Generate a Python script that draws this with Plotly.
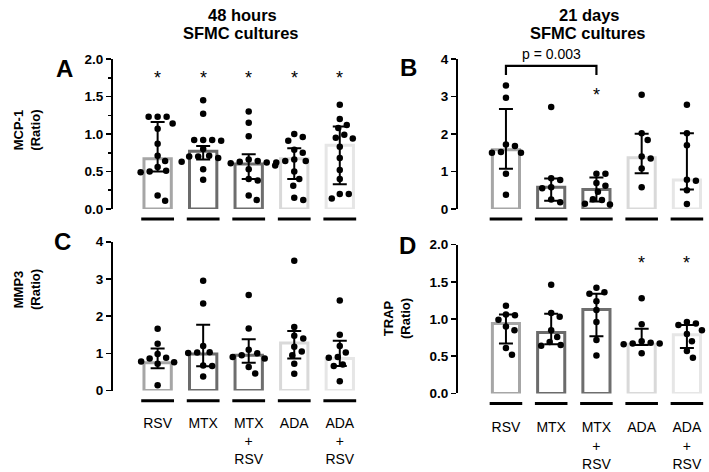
import plotly.graph_objects as go

W, H = 709, 472

categories = ["RSV", "MTX", "MTX<br>+<br>RSV", "ADA", "ADA<br>+<br>RSV"]
bar_colors = ["#a6a6a6", "#6b6b6b", "#6e6e6e", "#d9d9d9", "#e6e6e6"]

# ---- Panel A: MCP-1 (Ratio), 48 hours ----
A_RSV = [1.23, 1.23, 1.23, 1.14, 1.07, 0.87, 0.71, 0.64, 0.56, 0.51, 0.50, 0.49, 0.18, 0.11]
A_MTX = [1.45, 1.27, 0.92, 0.92, 0.92, 0.91, 0.80, 0.71, 0.70, 0.70, 0.68, 0.63, 0.53, 0.39]
A_MTXRSV = [1.30, 1.15, 0.97, 0.66, 0.64, 0.63, 0.62, 0.61, 0.58, 0.53, 0.40, 0.38, 0.18, 0.12]
A_ADA = [1.00, 0.96, 0.91, 0.79, 0.75, 0.66, 0.64, 0.64, 0.62, 0.50, 0.40, 0.31, 0.15, 0.12]
A_ADARSV = [1.39, 1.20, 1.12, 1.08, 0.99, 0.95, 0.94, 0.83, 0.68, 0.52, 0.40, 0.20, 0.20, 0.14]
A_median = [0.67, 0.77, 0.60, 0.67, 0.85]
A_q1 = [0.50, 0.66, 0.40, 0.40, 0.33]
A_q3 = [1.16, 0.84, 0.73, 0.81, 1.10]
A_sig = [1, 1, 1, 1, 1]

# ---- Panel B: MCP-1 (Ratio), 21 days ----
B_RSV = [3.30, 2.97, 1.72, 1.68, 1.52, 1.50, 1.50, 0.94, 0.38]
B_MTX = [2.72, 0.82, 0.77, 0.58, 0.55, 0.25, 0.18]
B_MTXRSV = [0.94, 0.94, 0.69, 0.62, 0.46, 0.26, 0.24, 0.14, 0.12]
B_ADA = [3.05, 2.02, 1.84, 1.40, 1.35, 1.08, 0.58]
B_ADARSV = [2.78, 2.02, 1.70, 0.78, 0.75, 0.50, 0.13]
B_median = [1.58, 0.58, 0.52, 1.37, 0.77]
B_q1 = [1.07, 0.22, 0.20, 0.95, 0.52]
B_q3 = [2.67, 0.81, 0.84, 2.01, 2.02]
B_sig = [0, 0, 1, 0, 0]
B_bracket = (0, 2)
B_bracket_y = 3.82
B_p_text = "p = 0.003"

# ---- Panel C: MMP3 (Ratio), 48 hours ----
C_RSV = [1.66, 1.26, 0.98, 0.88, 0.86, 0.78, 0.76, 0.72, 0.14]
C_MTX = [2.95, 2.34, 1.20, 1.03, 1.02, 1.01, 0.67, 0.66, 0.38]
C_MTXRSV = [2.57, 1.67, 1.10, 1.00, 0.95, 0.90, 0.86, 0.63, 0.46]
C_ADA = [3.49, 1.71, 1.47, 1.40, 1.18, 1.05, 0.95, 0.72, 0.45]
C_ADARSV = [2.42, 1.50, 1.20, 1.02, 0.90, 0.88, 0.70, 0.66, 0.25]
C_median = [0.75, 0.98, 0.95, 1.28, 0.86]
C_q1 = [0.60, 0.65, 0.75, 0.86, 0.66]
C_q3 = [1.13, 1.77, 1.38, 1.60, 1.34]
C_sig = [0, 0, 0, 0, 0]

# ---- Panel D: TRAP (Ratio), 21 days ----
D_RSV = [1.18, 1.06, 1.05, 0.99, 0.90, 0.85, 0.61, 0.52]
D_MTX = [1.46, 1.08, 1.03, 0.85, 0.76, 0.69, 0.65, 0.64]
D_MTXRSV = [1.42, 1.36, 1.34, 1.24, 1.12, 0.96, 0.72, 0.51]
D_ADA = [1.28, 0.93, 0.70, 0.68, 0.67, 0.67, 0.66, 0.54]
D_ADARSV = [0.96, 0.94, 0.92, 0.85, 0.80, 0.70, 0.57, 0.48]
D_median = [0.94, 0.82, 1.13, 0.66, 0.79]
D_q1 = [0.67, 0.66, 0.77, 0.65, 0.61]
D_q3 = [1.06, 1.07, 1.34, 0.87, 0.92]
D_sig = [0, 0, 0, 1, 1]

FONT = "Liberation Sans, Arial, sans-serif"

# panel geometry (pixels)
panels = [
    dict(name="A", pts=[A_RSV, A_MTX, A_MTXRSV, A_ADA, A_ADARSV], med=A_median, q1=A_q1, q3=A_q3,
         sig=A_sig, star_y=1.75, xpx=(113, 358), ypx=(54, 209), xr=[-0.98, 4.4], yr=[0, 2],
         dtick=0.5, fmt=".1f", minor=True, labels=False, standoff=22,
         letter=("A", 64, 64), ytitle=("MCP-1", 27, 128)),
    dict(name="B", pts=[B_RSV, B_MTX, B_MTXRSV, B_ADA, B_ADARSV], med=B_median, q1=B_q1, q3=B_q3,
         sig=B_sig, star_y=3.05, xpx=(458, 705), ypx=(54, 209), xr=[-1.06, 4.4], yr=[0, 4],
         dtick=1, fmt="d", minor=False, labels=False, standoff=22,
         letter=("B", 408, 63), ytitle=None),
    dict(name="C", pts=[C_RSV, C_MTX, C_MTXRSV, C_ADA, C_ADARSV], med=C_median, q1=C_q1, q3=C_q3,
         sig=C_sig, star_y=3.6, xpx=(113, 358), ypx=(243, 397), xr=[-0.98, 4.4], yr=[0, 4],
         dtick=1, fmt="d", minor=False, labels=True, standoff=22,
         letter=("C", 62, 243), ytitle=("MMP3", 27, 293)),
    dict(name="D", pts=[D_RSV, D_MTX, D_MTXRSV, D_ADA, D_ADARSV], med=D_median, q1=D_q1, q3=D_q3,
         sig=D_sig, star_y=1.75, xpx=(458, 705), ypx=(246, 400), xr=[-1.06, 4.4], yr=[0, 2],
         dtick=0.5, fmt=".1f", minor=False, labels=True, standoff=24,
         letter=("D", 407, 247), ytitle=("TRAP", 397, 323)),
]


def swarm(values, ppx, ppy, d=9.0):
    placed = []
    offs = []
    for v in values:
        y = v * ppy
        best = None
        k = 0
        while best is None:
            cands = [0.0] if k == 0 else [k * 0.5, -k * 0.5]
            for x in cands:
                if all((x - px) ** 2 + (y - py) ** 2 >= d * d for px, py in placed):
                    best = x
                    break
            k += 1
        placed.append((best, y))
        offs.append(best / ppx)
    return offs


fig = go.Figure()
annotations = []
shapes = []
layout_axes = {}

for i, p in enumerate(panels):
    n = "" if i == 0 else str(i + 1)
    xa, ya = "x" + n, "y" + n
    x0, x1 = p["xpx"]
    ytop, ybot = p["ypx"]
    xdom = [x0 / W, x1 / W]
    ydom = [1 - ybot / H, 1 - ytop / H]
    ppx = (x1 - x0) / (p["xr"][1] - p["xr"][0])
    ppy = (ybot - ytop) / (p["yr"][1] - p["yr"][0])

    # bars (median) with IQR error bars
    fig.add_trace(go.Bar(
        x=list(range(5)), y=p["med"], width=0.6, xaxis=xa, yaxis=ya,
        marker=dict(color="white", line=dict(color=bar_colors, width=3)),
        error_y=dict(type="data", symmetric=False,
                     array=[q - m for q, m in zip(p["q3"], p["med"])],
                     arrayminus=[m - q for q, m in zip(p["q1"], p["med"])],
                     color="black", thickness=2, width=7),
        hoverinfo="skip", showlegend=False))

    # dots
    for c, vals in enumerate(p["pts"]):
        offs = swarm(vals, ppx, ppy)
        fig.add_trace(go.Scatter(
            x=[c + o for o in offs], y=vals, mode="markers", xaxis=xa, yaxis=ya,
            marker=dict(color="black", size=6.5), cliponaxis=False,
            hoverinfo="skip", showlegend=False))

    # separator lines under each category
    for c in range(5):
        shapes.append(dict(type="line", xref=xa, yref="paper",
                           x0=c - 0.36, x1=c + 0.36,
                           y0=ydom[0] - 10.5 / H, y1=ydom[0] - 10.5 / H,
                           line=dict(color="black", width=3)))

    # significance stars
    for c, s in enumerate(p["sig"]):
        if s:
            annotations.append(dict(x=c, y=p["star_y"], xref=xa, yref=ya, text="*",
                                    showarrow=False, yanchor="middle", yshift=0,
                                    font=dict(family=FONT, size=18, color="black")))

    # panel letter
    L, lx, ly = p["letter"]
    annotations.append(dict(x=lx / W, y=1 - ly / H, xref="paper", yref="paper", text="<b>%s</b>" % L,
                            showarrow=False, xanchor="center", yanchor="middle",
                            font=dict(family=FONT, size=24, color="black")))
    if p["ytitle"]:
        t, tx, ty = p["ytitle"]
        annotations.append(dict(x=tx / W, y=1 - ty / H, xref="paper", yref="paper",
                                text="<b>%s</b><br><b>(Ratio)</b>" % t, textangle=-90,
                                showarrow=False, xanchor="center", yanchor="middle",
                                font=dict(family=FONT, size=13, color="black")))

    layout_axes["xaxis" + n] = dict(
        domain=xdom, range=p["xr"], anchor=ya, showgrid=False, zeroline=False,
        showline=False, ticks="", fixedrange=True,
        tickvals=list(range(5)), ticktext=categories if p["labels"] else [""] * 5,
        showticklabels=p["labels"], ticklabelstandoff=p["standoff"],
        tickfont=dict(family=FONT, size=14, color="black"))
    yax = dict(
        domain=ydom, range=p["yr"], anchor=xa, showgrid=False, zeroline=False,
        showline=True, linecolor="black", linewidth=2, ticks="outside", ticklen=5,
        tickwidth=1.5, tickcolor="black", dtick=p["dtick"], tickformat=p["fmt"],
        fixedrange=True,
        tickfont=dict(family=FONT, size=13.5, color="black", weight="bold"))
    if p["minor"]:
        yax["minor"] = dict(dtick=p["dtick"] / 2, ticks="outside", ticklen=3,
                            tickwidth=1.5, tickcolor="black")
    layout_axes["yaxis" + n] = yax

# p-value bracket on panel B
b0, b1 = B_bracket
fig.add_trace(go.Scatter(
    x=[b0, b0, b1, b1], y=[B_bracket_y - 0.24, B_bracket_y, B_bracket_y, B_bracket_y - 0.24],
    mode="lines", line=dict(color="black", width=2.2), xaxis="x2", yaxis="y2",
    hoverinfo="skip", showlegend=False, cliponaxis=False))
annotations.append(dict(x=(b0 + b1) / 2, y=B_bracket_y, xref="x2", yref="y2", text=B_p_text,
                        showarrow=False, yanchor="bottom", yshift=2,
                        font=dict(family=FONT, size=14, color="black")))

# column titles
for txt, cx, cy in [("48 hours", 242, 8), ("SFMC cultures", 241, 27),
                    ("21 days", 589, 8), ("SFMC cultures", 588, 27)]:
    annotations.append(dict(x=cx / W, y=1 - cy / H, xref="paper", yref="paper",
                            text="<b>%s</b>" % txt, showarrow=False,
                            xanchor="center", yanchor="middle",
                            font=dict(family=FONT, size=16.5, color="black")))

fig.update_layout(
    width=W, height=H, margin=dict(l=0, r=0, t=0, b=0),
    paper_bgcolor="white", plot_bgcolor="white", showlegend=False,
    annotations=annotations, shapes=shapes, **layout_axes)

fig.write_html("out.html", config={"displayModeBar": False, "staticPlot": True},
               post_script="document.body.style.margin='0';document.body.style.overflow='hidden';")
